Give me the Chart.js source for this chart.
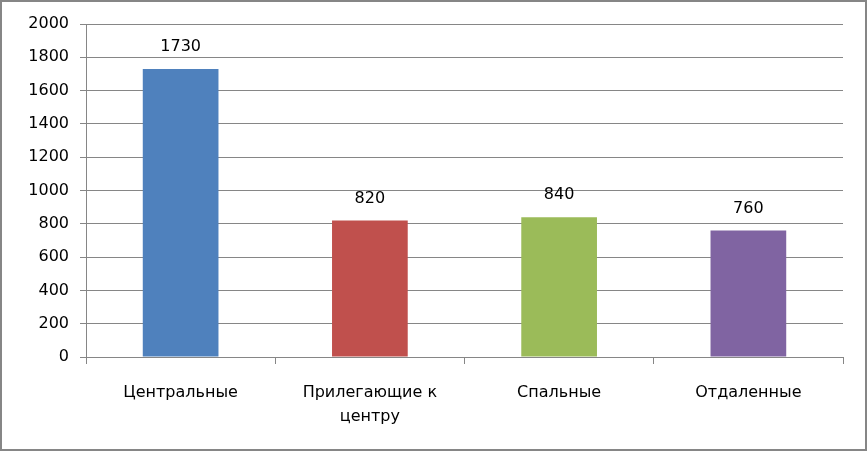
<!DOCTYPE html>
<html>
<head>
<meta charset="utf-8">
<script src="https://cdn.jsdelivr.net/npm/chart.js@4"></script>
<style>
    html, body { margin: 0; padding: 0; background: #fff; }
    .wrap {
        position: relative;
        width: 867px;
        height: 451px;
        box-sizing: border-box;
        border: 2px solid #868686;
    }
    #grafico { position: absolute; left: -2px; top: -2px; }
</style>
</head>
<body>
<div class="wrap">
    <canvas id="grafico" width="867" height="451"></canvas>
</div>
<script>
// данные
const categorias = ['Центральные', ['Прилегающие к', 'центру'], 'Спальные', 'Отдаленные'];
const valores = [1730, 820, 840, 760];
const cores = ['#4F81BD', '#C0504D', '#9BBB59', '#8064A2'];
const yMin = 0;
const yMax = 2000;
const yStep = 200;

const corGrade = '#868686';
const fonte = "'DejaVu Sans', Verdana, sans-serif";

// подписи над столбцами
const rotulos = {
    id: 'rotulos',
    afterDatasetsDraw(chart) {
        const ctx = chart.ctx;
        const meta = chart.getDatasetMeta(0);
        ctx.save();
        ctx.font = `16px ${fonte}`;
        ctx.fillStyle = '#000';
        ctx.textAlign = 'center';
        ctx.textBaseline = 'middle';
        meta.data.forEach((bar, i) => {
            ctx.fillText(String(valores[i]), bar.x, bar.y - 22);
        });
        ctx.restore();
    }
};

const ctx = document.getElementById('grafico').getContext('2d');
new Chart(ctx, {
    type: 'bar',
    data: {
        labels: categorias,
        datasets: [{
            data: valores,
            backgroundColor: cores,
            borderWidth: 0,
            categoryPercentage: 1,
            barPercentage: 0.4
        }]
    },
    options: {
        responsive: false,
        animation: false,
        layout: { padding: { top: 24, right: 24, left: 0, bottom: 0 } },
        plugins: {
            legend: { display: false },
            tooltip: { enabled: false }
        },
        scales: {
            x: {
                afterFit: (scale) => { scale.height = 94; },
                grid: {
                    offset: true,
                    drawOnChartArea: false,
                    tickLength: 7,
                    color: corGrade
                },
                border: { color: corGrade },
                ticks: {
                    font: { family: fonte, size: 16, lineHeight: 1.5 },
                    color: '#000',
                    padding: 17,
                    maxRotation: 0,
                    autoSkip: false
                }
            },
            y: {
                min: yMin,
                max: yMax,
                afterFit: (scale) => { scale.width = 86; },
                grid: {
                    color: corGrade,
                    tickLength: 6
                },
                border: { color: corGrade },
                ticks: {
                    stepSize: yStep,
                    font: { family: fonte, size: 16 },
                    color: '#000',
                    padding: 11,
                    callback: (v) => String(v)
                }
            }
        }
    },
    plugins: [rotulos]
});
</script>
</body>
</html>
